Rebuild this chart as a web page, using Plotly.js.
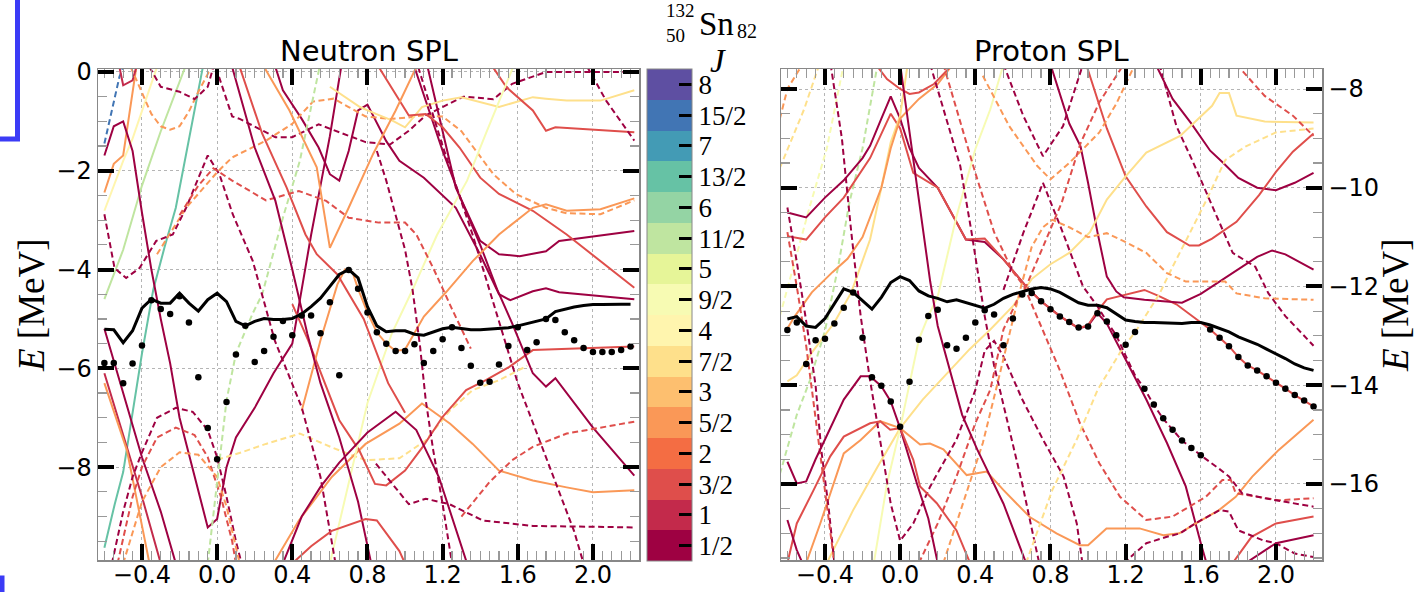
<!DOCTYPE html>
<html><head><meta charset="utf-8">
<script src="https://cdn.plot.ly/plotly-3.0.1.min.js"></script>
<style>html,body{margin:0;padding:0;background:#fff}#plot{width:1420px;height:592px}</style>
</head><body><div id="plot"></div>
<script>
// ---------- J levels / colour scale ----------
const J_VALUES = [0.5,1,1.5,2,2.5,3,3.5,4,4.5,5,5.5,6,6.5,7,7.5,8];
const J_LABELS = ['1/2','1','3/2','2','5/2','3','7/2','4','9/2','5','11/2','6','13/2','7','15/2','8'];
const J_COLORS = ['#9e0142','#c32a4b','#df4e4b','#f46d43','#fa9857','#fdbf6f','#fee08b','#fff5ae',
                  '#f7fbb3','#e6f598','#bfe5a0','#94d4a4','#66c2a5','#439bb5','#4175b4','#5e4fa2'];

// ---------- x grid of the tracked state (both panels) ----------
const DEF_X = [-0.6,-0.55,-0.5,-0.45,-0.4,-0.35,-0.3,-0.25,-0.2,-0.15,-0.1,-0.05,0,0.05,0.1,0.15,0.2,0.25,0.3,0.35,0.4,0.45,0.5,0.55,0.6,0.65,0.7,0.75,0.8,0.85,0.9,0.95,1,1.05,1.1,1.15,1.2,1.25,1.3,1.35,1.4,1.45,1.5,1.55,1.6,1.65,1.7,1.75,1.8,1.85,1.9,1.95,2,2.05,2.1,2.15,2.2];

// ---------- Neutron panel: black line and dots ----------
const N_BLACK = [-5.21,-5.22,-5.48,-5.24,-4.78,-4.60,-4.68,-4.68,-4.48,-4.68,-4.84,-4.61,-4.48,-4.65,-5.05,-5.14,-5.05,-4.99,-5.01,-5.01,-4.99,-4.90,-4.75,-4.58,-4.34,-4.10,-4.00,-4.17,-4.75,-5.14,-5.26,-5.24,-5.24,-5.31,-5.33,-5.26,-5.20,-5.17,-5.20,-5.22,-5.22,-5.21,-5.20,-5.18,-5.14,-5.09,-5.04,-5.00,-4.85,-4.80,-4.76,-4.73,-4.71,-4.71,-4.70,-4.70,-4.70];
const N_DOTS = [-5.89,-5.89,-6.30,-5.90,-5.54,-4.62,-4.80,-4.90,-4.54,-5.07,-6.18,-7.21,-7.84,-6.68,-5.72,-5.14,-5.87,-5.65,-5.36,-5.04,-5.33,-4.93,-4.93,-5.29,-4.66,-6.14,-4.01,-4.39,-4.87,-5.27,-5.50,-5.65,-5.65,-5.51,-5.89,-5.65,-5.41,-5.17,-5.59,-5.95,-6.29,-6.27,-5.92,-5.55,-5.17,-5.63,-5.47,-5.00,-5.02,-5.27,-5.43,-5.59,-5.67,-5.67,-5.67,-5.63,-5.56];

// ---------- Proton panel: black line and dots ----------
const P_BLACK = [-12.66,-12.61,-12.80,-12.83,-12.65,-12.36,-12.05,-12.12,-12.29,-12.46,-12.22,-11.92,-11.80,-11.88,-12.09,-12.19,-12.24,-12.31,-12.27,-12.33,-12.39,-12.44,-12.36,-12.24,-12.16,-12.10,-12.05,-12.02,-12.05,-12.12,-12.22,-12.33,-12.38,-12.38,-12.43,-12.56,-12.68,-12.71,-12.73,-12.73,-12.74,-12.74,-12.75,-12.73,-12.73,-12.78,-12.85,-12.92,-13.02,-13.09,-13.17,-13.27,-13.36,-13.46,-13.57,-13.65,-13.70];
const P_DOTS = [-12.88,-12.73,-13.57,-13.09,-13.06,-12.75,-12.43,-12.12,-13.04,-13.84,-14.01,-14.33,-14.84,-13.93,-13.08,-12.60,-12.47,-13.19,-13.26,-13.04,-12.73,-12.48,-12.57,-13.19,-12.65,-12.16,-12.13,-12.30,-12.46,-12.61,-12.72,-12.83,-12.81,-12.54,-12.71,-12.99,-13.18,-12.92,-14.07,-14.39,-14.67,-14.90,-15.12,-15.27,-15.42,-12.87,-13.04,-13.21,-13.43,-13.60,-13.70,-13.82,-13.95,-14.07,-14.20,-14.31,-14.43];

// ---------- single-particle levels: [J, dashed(1)/solid(0), [[x,E],...]] ----------
const NEUTRON_LEVELS = [
 [7.5,1,[[-0.6,-1.45],[-0.52,-0.1],[-0.5,0.1]]],
 [6.5,0,[[-0.6,-9.63],[-0.545,-8.75],[-0.5,-8.1],[-0.45,-6.9],[-0.4,-5.7],[-0.34,-4.41],[-0.28,-3.55],[-0.22,-2.75],[-0.15,-1.4],[-0.076,0.1]]],
 [5.5,0,[[-0.6,-4.6],[-0.5,-3.6],[-0.4,-2.3],[-0.3,-1.2],[-0.17,0.1]]],
 [4,0,[[-0.6,-2.81],[-0.5,-1.8],[-0.45,-1.35],[-0.32,0.1]]],
 [2.5,0,[[-0.6,-2.44],[-0.55,-1.86],[-0.5,-1.69],[-0.43,0.1]]],
 [0.5,0,[[-0.6,-1.69],[-0.55,-1.1],[-0.5,-1.0],[-0.45,-1.6],[-0.4,-2.85],[-0.35,-4.0],[-0.3,-5.0],[-0.25,-5.9],[-0.2,-7.0],[-0.12,-8.2],[-0.05,-9.22],[0,-9.05],[0.05,-8.0],[0.1,-7.4],[0.2,-6.8],[0.3,-6.1],[0.4,-5.5],[0.45,-4.4],[0.5,-3.3],[0.55,-2.3],[0.6,-1.3],[0.66,0.1]]],
 [1,0,[[-0.52,0.1],[-0.5,-0.27],[-0.45,-0.17],[-0.43,0.1]]],
 [2.5,1,[[-0.46,0.1],[-0.4,-0.4],[-0.35,-0.85],[-0.3,-1.1],[-0.25,-1.17],[-0.2,-1.1],[-0.15,-0.8],[-0.1,-0.4],[-0.05,-0.05],[-0.03,0.1]]],
 [0.5,1,[[-0.36,0.1],[-0.3,-0.3],[-0.2,-0.4],[-0.12,-0.55],[-0.05,-0.3],[-0.02,0.1]]],
 [0.5,0,[[-0.6,-5.2],[-0.5,-6.5],[-0.4,-7.8],[-0.3,-8.9],[-0.22,-9.95]]],
 [1,0,[[-0.6,-6.1],[-0.5,-7.35],[-0.4,-8.6],[-0.3,-9.95]]],
 [2.5,0,[[-0.6,-6.3],[-0.48,-7.66],[-0.36,-9.95]]],
 [0.5,1,[[-0.56,-9.95],[-0.5,-8.9],[-0.45,-8.2],[-0.4,-7.7],[-0.32,-7.0],[-0.22,-6.8],[-0.13,-6.88],[-0.05,-7.25],[0,-7.8],[0.05,-8.6],[0.1,-9.5],[0.13,-9.95]]],
 [1.5,1,[[-0.53,-9.95],[-0.45,-8.6],[-0.4,-8.0],[-0.32,-7.4],[-0.22,-7.2],[-0.12,-7.35],[-0.05,-7.8],[0.02,-8.6],[0.08,-9.5],[0.1,-9.95]]],
 [2.5,1,[[-0.5,-9.95],[-0.4,-8.7],[-0.3,-8.0],[-0.2,-7.7],[-0.1,-7.75],[0,-8.2],[0.05,-8.8],[0.12,-9.95]]],
 [3.5,1,[[0,-7.85],[0.13,-7.7],[0.26,-7.53],[0.44,-7.32],[0.61,-7.6],[0.79,-7.86],[0.97,-7.82],[1.11,-7.46],[1.24,-6.85],[1.36,-6.44],[1.5,-6.24],[1.65,-5.95]]],
 [2.5,0,[[0.3,-9.95],[0.435,-9.08],[0.61,-8.2],[0.79,-7.53],[0.97,-7.12],[1.09,-6.71],[1.24,-7.12],[1.36,-7.53],[1.5,-8.07],[1.68,-8.27],[1.86,-8.41],[2.0,-8.51],[2.22,-8.47]]],
 [1.5,0,[[0.4,-4.7],[0.485,-5.44],[0.65,-7.05],[0.756,-7.66],[0.84,-8.34],[0.9,-8.37],[1.0,-8.07],[1.094,-7.59],[1.2,-6.98],[1.325,-6.44],[1.43,-6.24],[1.555,-5.97],[1.68,-5.63],[2.22,-5.56]]],
 [0.5,0,[[0.31,0.1],[0.35,-0.37],[0.45,-0.95],[0.54,-1.53],[0.6,-2.07],[0.65,-2.2],[0.7,-1.6],[0.75,-0.78],[0.8,-0.66],[0.9,-1.4],[0.97,-1.8],[1.1,-2.14],[1.27,-2.75],[1.4,-3.7],[1.5,-4.5],[1.56,-4.62],[1.68,-4.44],[1.75,-4.38],[1.82,-4.46],[2.22,-4.6]]],
 [0.5,0,[[1.12,0.1],[1.27,-2.34],[1.4,-3.42],[1.5,-3.69],[1.61,-3.73],[1.75,-3.63],[1.82,-3.42],[2.22,-3.22]]],
 [0.5,0,[[1.05,0.1],[1.2,-1.6],[1.3,-2.6],[1.4,-3.5],[1.49,-4.4],[1.57,-5.09],[1.68,-6.1],[1.75,-6.37],[1.8,-6.2],[2.0,-7.2],[2.22,-8.17]]],
 [0.5,1,[[0.01,-0.1],[0.08,-0.9],[0.12,-0.95],[0.31,-1.32],[0.4,-1.32],[0.54,-1.06],[0.65,-1.22],[0.79,-1.42],[0.92,-1.47],[1.02,-1.19],[1.11,-0.88],[1.2,-0.71],[1.31,-0.5],[1.47,-0.55],[1.57,-0.24],[1.75,0.0],[2.0,0.0],[2.22,0.0]]],
 [2.5,1,[[-0.32,-3.69],[-0.165,-2.75],[0,-2.03],[0.08,-1.73],[0.26,-1.39],[0.4,-1.05],[0.51,-0.6],[0.62,-0.54],[0.7,-0.71],[0.79,-0.9],[0.92,-0.95],[1.02,-0.92],[1.09,-0.88],[1.2,-0.9],[1.3,-1.2],[1.4,-1.7],[1.47,-2.07],[1.59,-2.47],[1.75,-2.75],[1.86,-2.86],[2.04,-2.88],[2.22,-2.6]]],
 [3.5,0,[[0.6,-0.3],[0.76,-0.71],[0.845,-0.85],[0.93,-0.98],[1.0,-1.12],[1.09,-0.71],[1.2,-0.58],[1.3,-0.51],[1.5,-0.71],[1.68,-0.51],[1.75,-0.54],[1.86,-0.58],[2.04,-0.58],[2.22,-0.37]]],
 [1.5,0,[[1.467,0.1],[1.54,-0.31],[1.68,-0.78],[1.75,-1.19],[1.8,-1.12],[2.22,-1.22]]],
 [1.5,0,[[0.86,0.1],[0.97,-0.58],[1.02,-0.88],[1.11,-0.85],[1.2,-1.12],[1.29,-1.53],[1.4,-2.14],[1.5,-2.47],[1.68,-2.81],[1.86,-3.29],[2.22,-4.37]]],
 [2.5,0,[[0.25,0.1],[0.385,-0.78],[0.53,-1.93],[0.6,-3.56],[0.7,-2.75],[0.83,-1.66],[0.95,-0.78],[1.06,0.1]]],
 [2.5,0,[[0.45,-6.86],[0.55,-5.43],[0.64,-4.3],[0.68,-4.0],[0.72,-4.05],[0.75,-4.39],[0.8,-4.87],[0.85,-5.27],[0.9,-5.5],[0.95,-5.65],[1.0,-5.62],[1.05,-5.3],[1.1,-4.95],[1.22,-4.45],[1.36,-3.83],[1.5,-3.29],[1.68,-2.75],[1.75,-2.68],[1.86,-2.81],[2.04,-2.78],[2.22,-2.56]]],
 [4.5,0,[[0.6,-9.95],[0.7,-8.3],[0.8,-6.7],[0.93,-5.29],[1.04,-4.41],[1.17,-3.3],[1.33,-2.2],[1.43,-1.25],[1.575,0.1]]],
 [5.5,1,[[-0.05,-9.95],[0,-8.3],[0.05,-6.65],[0.1,-5.7],[0.19,-4.88],[0.24,-4.5],[0.35,-2.95],[0.44,-1.8],[0.51,-0.58],[0.545,0.1]]],
 [0.5,1,[[-0.6,-2.88],[-0.546,-3.97],[-0.484,-4.17],[-0.413,-3.97],[-0.324,-3.42],[-0.236,-3.29],[-0.165,-2.75],[-0.05,-1.69],[0.012,-2.07],[0.083,-2.88],[0.19,-3.83],[0.306,-5.43],[0.45,-6.79],[0.55,-8.2],[0.63,-9.95]]],
 [1.5,1,[[-0.2,-2.9],[-0.1,-2.3],[-0.02,-1.95],[0.08,-2.2],[0.26,-2.6],[0.435,-2.41],[0.58,-2.61],[0.7,-2.95],[0.86,-3.05],[1.0,-3.05],[1.06,-3.29],[1.15,-3.97],[1.25,-4.8],[1.35,-5.6]]],
 [1.5,0,[[0.12,0.1],[0.24,-1.25],[0.37,-2.34],[0.47,-3.29],[0.53,-3.69],[0.64,-4.1],[0.78,-5.0],[0.91,-6.3],[1.0,-6.9]]],
 [0.5,0,[[0.08,0.1],[0.2,-1.53],[0.31,-2.61],[0.4,-4.0],[0.48,-5.3],[0.55,-6.3],[0.65,-7.4],[0.75,-8.7],[0.82,-9.95]]],
 [0.5,0,[[0.35,-9.95],[0.45,-9.0],[0.55,-8.4],[0.65,-7.91],[0.8,-7.3],[0.95,-6.88],[1.06,-7.25],[1.18,-8.2],[1.33,-9.95]]],
 [1.5,0,[[0.4,-9.95],[0.5,-9.6],[0.61,-9.29],[0.79,-9.05],[0.85,-9.08],[0.97,-9.7],[1.0,-9.95]]],
 [0.5,1,[[0.85,-1.6],[0.9,-2.2],[0.95,-2.9],[1.0,-3.6],[1.04,-4.41],[1.08,-5.56],[1.11,-6.64],[1.15,-7.66],[1.2,-8.75],[1.25,-9.95]]],
 [0.5,1,[[1.07,0.1],[1.2,-1.5],[1.36,-3.3],[1.45,-4.4],[1.52,-5.3],[1.6,-6.3],[1.7,-7.3],[1.8,-8.3],[1.9,-9.3],[1.95,-9.95]]],
 [0.5,1,[[1.97,0.1],[2.07,-0.58],[2.22,-1.39]]],
 [1.5,1,[[1.3,-9.0],[1.45,-8.3],[1.57,-7.86],[1.68,-7.59],[1.86,-7.32],[2.22,-7.08]]],
 [0.5,1,[[0.845,-7.93],[1.02,-8.75],[1.11,-8.64],[1.236,-8.75],[1.414,-9.08],[1.68,-9.19],[2.22,-9.22]]]
];

const PROTON_LEVELS = [
 [2.5,1,[[-0.64,-8.6],[-0.6,-8.0],[-0.52,-7.5]]],
 [3.5,1,[[-0.64,-9.6],[-0.51,-8.4],[-0.43,-7.5]]],
 [4.5,1,[[-0.64,-12.6],[-0.48,-10.37],[-0.39,-9.2],[-0.3,-7.5]]],
 [5.5,1,[[-0.64,-15.8],[-0.55,-14.6],[-0.48,-13.9],[-0.4,-12.9],[-0.33,-11.6],[-0.27,-10.3],[-0.2,-9.2],[-0.12,-7.5]]],
 [0.5,0,[[-0.6,-10.5],[-0.5,-10.6],[-0.4,-10.2],[-0.3,-9.85],[-0.2,-9.4],[-0.16,-9.15],[-0.1,-8.6],[-0.05,-8.15],[0,-8.6],[0.05,-9.2],[0.1,-9.6],[0.2,-10.0],[0.35,-11.05],[0.45,-11.1],[0.55,-11.45],[0.67,-12.0],[0.75,-12.3],[0.85,-12.6],[0.95,-12.85],[1.0,-12.8],[1.05,-12.54],[1.1,-12.75],[1.2,-13.48],[1.31,-14.29],[1.42,-15.17],[1.52,-16.05],[1.6,-17.2],[1.63,-17.6]]],
 [1.5,0,[[-0.6,-10.98],[-0.5,-11.05],[-0.4,-10.6],[-0.3,-10.2],[-0.16,-9.4],[-0.05,-8.5],[0,-8.8],[0.07,-9.7],[0.2,-10.0],[0.35,-11.05],[0.45,-11.03],[0.55,-11.45],[0.67,-12.0],[0.75,-12.3],[0.85,-12.6],[0.95,-12.85],[1.0,-12.78],[1.05,-12.5],[1.1,-12.26],[1.19,-12.18],[1.3,-12.07],[1.375,-12.19],[1.47,-12.36],[1.6,-12.73],[1.65,-12.87],[1.7,-13.04],[1.75,-13.21],[1.8,-13.43],[1.85,-13.6],[1.9,-13.7],[1.95,-13.82],[2.0,-13.95],[2.05,-14.07],[2.1,-14.2],[2.15,-14.31],[2.2,-14.43]]],
 [0.5,0,[[0.8,-7.5],[0.9,-8.7],[0.96,-9.16],[1.0,-9.9],[1.05,-10.9],[1.1,-11.8],[1.15,-12.1],[1.19,-12.22],[1.3,-12.27],[1.4,-12.3],[1.5,-12.33],[1.6,-12.15],[1.7,-11.9],[1.8,-11.64],[1.9,-11.4],[1.98,-11.27],[2.05,-11.35],[2.2,-11.66]]],
 [0.5,0,[[1.36,-7.5],[1.45,-8.2],[1.55,-8.7],[1.65,-9.25],[1.72,-9.5],[1.8,-9.8],[1.9,-10.0],[2.0,-10.05],[2.1,-9.9],[2.2,-9.7]]],
 [1.5,0,[[0.99,-7.5],[1.1,-8.8],[1.2,-9.77],[1.31,-10.38],[1.42,-10.9],[1.54,-11.17],[1.59,-11.17],[1.66,-11.03],[1.79,-10.69],[1.91,-10.15],[2.0,-9.68],[2.09,-9.27],[2.2,-8.9]]],
 [3.5,0,[[-0.6,-13.92],[-0.55,-13.8],[-0.47,-13.34],[-0.35,-12.73],[-0.26,-12.12],[-0.16,-11.05],[-0.1,-10.0],[-0.05,-9.08],[0,-8.54],[0.04,-7.5]]],
 [3.5,0,[[-0.39,-17.6],[-0.25,-16.53],[-0.12,-15.65],[0,-14.87],[0.12,-14.29],[0.25,-13.75],[0.37,-13.27],[0.48,-12.87],[0.6,-12.4],[0.7,-11.85],[0.8,-11.55],[0.9,-11.32],[1.01,-10.9],[1.1,-10.24],[1.2,-9.77],[1.31,-9.29],[1.49,-8.95],[1.66,-8.34],[1.7,-8.08],[1.75,-8.08],[1.79,-8.54],[1.94,-8.66],[2.2,-8.68]]],
 [4.5,0,[[-0.14,-17.6],[-0.07,-16.0],[0,-14.87],[0.05,-13.95],[0.1,-13.07],[0.15,-12.6],[0.2,-12.2],[0.3,-10.58],[0.4,-9.22],[0.48,-8.41],[0.55,-7.5]]],
 [2.5,0,[[-0.5,-17.6],[-0.425,-16.8],[-0.3,-15.38],[-0.21,-15.11],[-0.106,-14.73],[0,-14.87],[0.106,-15.2],[0.159,-15.18],[0.23,-15.3],[0.354,-15.82],[0.46,-15.75],[0.549,-16.12],[0.69,-16.67],[0.832,-17.0],[0.956,-17.24],[1.0,-17.24],[1.098,-16.9],[1.274,-16.9],[1.4,-17.04],[1.486,-17.0],[1.574,-16.8],[1.697,-16.53],[1.786,-16.26],[1.874,-15.85],[2.015,-15.31],[2.2,-14.7]]],
 [2.5,0,[[-0.6,-12.85],[-0.56,-12.6],[-0.47,-12.12],[-0.36,-11.71],[-0.28,-11.44],[-0.2,-11.0],[-0.1,-10.0],[-0.05,-9.2],[0,-8.6],[0.1,-8.2],[0.2,-7.9],[0.28,-7.5]]],
 [1.5,0,[[-0.13,-7.5],[-0.07,-7.8],[0,-8.0],[0.05,-8.1],[0.1,-8.07],[0.18,-7.9],[0.28,-7.5]]],
 [0.5,1,[[-0.37,-7.5],[-0.31,-9.0],[-0.26,-10.9],[-0.21,-12.6],[-0.16,-13.9],[-0.1,-15.3],[-0.05,-16.4],[0,-17.15],[0.07,-16.8],[0.16,-16.05],[0.3,-15.1],[0.4,-14.1],[0.45,-13.3],[0.5,-13.1],[0.55,-13.42],[0.65,-14.29],[0.76,-15.1],[0.87,-15.85],[0.94,-16.8],[0.97,-17.6]]],
 [0.5,1,[[-0.6,-10.4],[-0.55,-11.5],[-0.5,-12.7],[-0.45,-14.0],[-0.42,-15.3],[-0.38,-16.5],[-0.35,-17.6]]],
 [1.5,1,[[-0.6,-10.9],[-0.55,-12.0],[-0.5,-13.2],[-0.46,-14.4],[-0.42,-15.6],[-0.38,-16.8],[-0.35,-17.6]]],
 [0.5,1,[[0.16,-7.5],[0.23,-8.4],[0.32,-9.56],[0.38,-10.9],[0.42,-11.9],[0.45,-12.6],[0.5,-13.6],[0.55,-14.4],[0.6,-15.2],[0.65,-16.0],[0.7,-16.9],[0.74,-17.6]]],
 [1.5,1,[[0.23,-7.5],[0.3,-8.4],[0.4,-9.7],[0.5,-10.9],[0.6,-11.7],[0.66,-12.0],[0.75,-12.8],[0.85,-13.7],[0.957,-14.77],[1.06,-15.58],[1.17,-16.26],[1.31,-16.73],[1.45,-16.66],[1.627,-16.26],[1.715,-15.92],[1.76,-15.92],[1.786,-16.19],[2.015,-16.33],[2.2,-16.29]]],
 [0.5,1,[[0.55,-12.07],[0.655,-10.92],[0.76,-9.9],[0.867,-10.92],[0.973,-12.0],[1.05,-12.4],[1.1,-12.71],[1.15,-12.99],[1.2,-13.4],[1.25,-13.8],[1.3,-14.07],[1.35,-14.4],[1.4,-14.68],[1.45,-14.9],[1.5,-15.12],[1.55,-15.27],[1.6,-15.42],[1.7,-15.7],[1.75,-15.85],[1.82,-16.19],[1.94,-16.29],[2.2,-16.46]]],
 [3.5,1,[[0.67,-17.6],[0.81,-16.12],[0.94,-15.1],[1.05,-14.1],[1.17,-13.34],[1.26,-12.87],[1.38,-12.15],[1.45,-11.6],[1.54,-10.93],[1.63,-10.25],[1.73,-9.44],[1.84,-9.16],[2.0,-8.88],[2.2,-8.8]]],
 [2.5,1,[[0.23,-17.6],[0.3,-16.8],[0.37,-16.0],[0.44,-15.17],[0.51,-14.09],[0.58,-13.0],[0.64,-12.05],[0.7,-11.2],[0.76,-10.8],[0.81,-10.65],[0.9,-10.8],[1.0,-11.0],[1.1,-10.92],[1.2,-11.1],[1.31,-11.32],[1.42,-11.73],[1.52,-11.9],[1.73,-11.9],[1.79,-12.14],[1.94,-12.24],[2.2,-12.27]]],
 [2.5,1,[[0.44,-7.73],[0.58,-8.75],[0.73,-9.56],[0.8,-9.83],[0.9,-9.5],[1.06,-8.88],[1.15,-8.3],[1.25,-7.5]]],
 [0.5,1,[[0.55,-7.5],[0.655,-8.54],[0.76,-9.36],[0.867,-8.75],[0.973,-7.5]]],
 [1.5,1,[[0.1,-17.6],[0.2,-16.8],[0.3,-15.85],[0.4,-14.77],[0.48,-14.09],[0.55,-12.87],[0.62,-12.3],[0.67,-12.0],[0.76,-11.2],[0.86,-10.3],[0.96,-9.1],[1.06,-8.27],[1.19,-7.5]]],
 [1.5,1,[[1.79,-7.5],[1.94,-8.14],[2.09,-8.54],[2.2,-8.95]]],
 [0.5,1,[[1.38,-7.5],[1.47,-8.75],[1.56,-9.49],[1.66,-10.37],[1.77,-11.32],[1.89,-11.6],[1.96,-12.14],[2.05,-12.6],[2.2,-13.2]]],
 [1.5,0,[[1.77,-17.6],[1.87,-17.07],[2.0,-16.8],[2.2,-16.66]]],
 [0.5,0,[[1.84,-17.6],[2.0,-17.2],[2.2,-17.04]]],
 [0.5,1,[[1.19,-17.6],[1.31,-17.2],[1.42,-17.07],[1.49,-17.0],[1.57,-16.8],[1.7,-16.53],[1.75,-16.56],[1.8,-16.94],[1.93,-17.14],[2.0,-17.2],[2.1,-17.41],[2.2,-17.48]]],
 [0.5,0,[[0.0,-7.5],[0.04,-8.6],[0.08,-9.7],[0.12,-10.9],[0.16,-11.9],[0.2,-12.8],[0.25,-13.5],[0.33,-14.6],[0.41,-15.3],[0.55,-16.4],[0.67,-17.6]]],
 [0.5,0,[[-0.6,-15.55],[-0.55,-15.99],[-0.5,-15.95],[-0.45,-15.5],[-0.4,-15.1],[-0.3,-14.29],[-0.21,-13.82],[-0.16,-13.82],[-0.1,-14.02],[-0.05,-14.33],[0,-14.87],[0.05,-15.5],[0.09,-16.0],[0.15,-16.7],[0.2,-17.6]]],
 [1.5,0,[[-0.6,-17.6],[-0.55,-16.8],[-0.46,-16.12],[-0.372,-15.44],[-0.3,-15.04],[-0.16,-14.77],[-0.106,-14.73],[-0.053,-14.9],[0,-14.87],[0.07,-15.51],[0.106,-16.05],[0.195,-16.39],[0.3,-16.94],[0.372,-17.6]]],
 [0.5,0,[[-0.6,-16.73],[-0.55,-17.34],[-0.52,-17.6]]]
];

// ---------- build traces ----------
function colorOf(J){ return J_COLORS[Math.round(J*2)-1]; }
function levelTraces(levels, xa, ya){
  return levels.map(([J, dashed, pts]) => ({
    type:'scatter', mode:'lines', xaxis:xa, yaxis:ya,
    x: pts.map(p=>p[0]), y: pts.map(p=>p[1]),
    line:{color:colorOf(J), width: 2, dash: dashed?'6px,3.5px':'solid'},
    hoverinfo:'skip', showlegend:false
  }));
}
const traces = [];
traces.push(...levelTraces(NEUTRON_LEVELS,'x','y'));
traces.push(...levelTraces(PROTON_LEVELS,'x2','y2'));
traces.push({type:'scatter',mode:'lines',x:DEF_X,y:N_BLACK,xaxis:'x',yaxis:'y',line:{color:'#000',width:3},hoverinfo:'skip',showlegend:false});
traces.push({type:'scatter',mode:'lines',x:DEF_X,y:P_BLACK,xaxis:'x2',yaxis:'y2',line:{color:'#000',width:3},hoverinfo:'skip',showlegend:false});
traces.push({type:'scatter',mode:'markers',x:DEF_X,y:N_DOTS,xaxis:'x',yaxis:'y',marker:{color:'#000',size:6.5},hoverinfo:'skip',showlegend:false});
traces.push({type:'scatter',mode:'markers',x:DEF_X,y:P_DOTS,xaxis:'x2',yaxis:'y2',marker:{color:'#000',size:6.5},hoverinfo:'skip',showlegend:false});

// colour bar (discrete J scale)
const cmin = 0.25, cmax = 8.25, nb = J_COLORS.length;
const cscale = [];
J_COLORS.forEach((c,i)=>{ cscale.push([i/nb, c]); cscale.push([(i+1)/nb, c]); });
traces.push({type:'scatter',mode:'markers',x:[null],y:[null],xaxis:'x',yaxis:'y',hoverinfo:'skip',showlegend:false,
  marker:{color:[J_VALUES[0]],cmin:cmin,cmax:cmax,colorscale:cscale,showscale:true,
    colorbar:{x:647/1420,xanchor:'left',xpad:0,y:1-315/592,yanchor:'middle',ypad:0,len:492/592,lenmode:'fraction',
      thickness:45,thicknessmode:'pixels',outlinecolor:'#888',outlinewidth:1,
      tickmode:'array',tickvals:J_VALUES,ticktext:J_LABELS,ticks:'inside',ticklen:13,tickwidth:3,tickcolor:'#000',
      tickfont:{family:'Liberation Serif',size:27,color:'#000'}}}});

// ---------- layout ----------
const W = 1420, H = 592;
const axX = (dom, anchor) => ({domain:dom, anchor:anchor, range:[-0.634,2.245], tick0:0, dtick:0.4, tickformat:'.1f',
  ticks:'inside', ticklen:16, tickwidth:4, tickcolor:'#000', mirror:'allticks', showline:true, linecolor:'#888', linewidth:1.5,
  showgrid:true, gridcolor:'#b5b5b5', griddash:'dot', gridwidth:1, zeroline:false, ticklabelstandoff:-7,
  minor:{dtick:0.05, tick0:0, ticks:'inside', ticklen:9, tickwidth:1.2, tickcolor:'#999', showgrid:false},
  tickfont:{family:'DejaVu Sans', size:24, color:'#000'}});
const axY = (range, anchor, side) => ({domain:[1-560/H, 1-69/H], anchor:anchor, side:side, range:range, tick0:0, dtick:2,
  ticks:'inside', ticklen:16, tickwidth:4, tickcolor:'#000', mirror:'allticks', showline:true, linecolor:'#888', linewidth:1.5,
  showgrid:true, gridcolor:'#b5b5b5', griddash:'dot', gridwidth:1, zeroline:false,
  minor:{dtick:0.5, tick0:0, ticks:'inside', ticklen:9, tickwidth:1.2, tickcolor:'#999', showgrid:false},
  tickfont:{family:'DejaVu Sans', size:24, color:'#000'}});

const serif = 'Liberation Serif';
const layout = {
  width:W, height:H, margin:{l:0,r:0,t:0,b:0}, paper_bgcolor:'#fff', plot_bgcolor:'#fff', showlegend:false,
  xaxis: axX([98/W, 639/W],'y'),
  yaxis: axY([-9.88, 0.06],'x','left'),
  xaxis2: axX([781/W, 1322/W],'y2'),
  yaxis2: axY([-17.54, -7.595],'x2','right'),
  annotations:[
    {xref:'paper',yref:'paper',x:368.5/W,y:1-70/H,xanchor:'center',yanchor:'bottom',showarrow:false,text:'Neutron SPL',font:{family:'DejaVu Sans',size:29,color:'#000'}},
    {xref:'paper',yref:'paper',x:1051.5/W,y:1-70/H,xanchor:'center',yanchor:'bottom',showarrow:false,text:'Proton SPL',font:{family:'DejaVu Sans',size:29,color:'#000'}},
    {xref:'paper',yref:'paper',x:31/W,y:1-305/H,xanchor:'center',yanchor:'middle',textangle:-90,showarrow:false,text:'<i>E</i> [MeV]',font:{family:serif,size:37,color:'#000'}},
    {xref:'paper',yref:'paper',x:1395/W,y:1-305/H,xanchor:'center',yanchor:'middle',textangle:-90,showarrow:false,text:'<i>E</i> [MeV]',font:{family:serif,size:37,color:'#000'}},
    {xref:'paper',yref:'paper',x:718/W,y:1-61/H,xanchor:'center',yanchor:'middle',showarrow:false,text:'<i>J</i>',font:{family:serif,size:33,color:'#000'}},
    {xref:'paper',yref:'paper',x:716/W,y:1-24/H,xanchor:'center',yanchor:'middle',showarrow:false,text:'Sn',font:{family:serif,size:33,color:'#000'}},
    {xref:'paper',yref:'paper',x:664/W,y:1-23/H,xanchor:'left',yanchor:'middle',align:'left',showarrow:false,text:'132<br>50',font:{family:serif,size:19,color:'#000'}},
    {xref:'paper',yref:'paper',x:735/W,y:1-31/H,xanchor:'left',yanchor:'middle',showarrow:false,text:'82',font:{family:serif,size:20,color:'#000'}}
  ],
  shapes:[
    {type:'rect',xref:'paper',yref:'paper',x0:-0.03,x1:17.5/W,y0:1-139/H,y1:1.05,line:{color:'#3b3bf6',width:5},fillcolor:'rgba(0,0,0,0)'},
    {type:'rect',xref:'paper',yref:'paper',x0:-0.03,x1:2/W,y0:-0.05,y1:1-578/H,line:{color:'#3b3bf6',width:5},fillcolor:'rgba(0,0,0,0)'}
  ]
};
Plotly.newPlot('plot', traces, layout, {staticPlot:true, displayModeBar:false});
</script></body></html>
